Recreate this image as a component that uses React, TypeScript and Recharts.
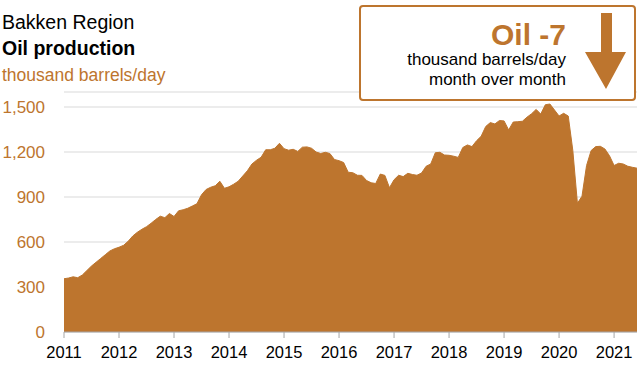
import React from 'react';
import { AreaChart, Area, XAxis, YAxis, CartesianGrid } from 'recharts';

// monthly Bakken oil production, thousand barrels/day, Jan 2011 - Jun 2021
const y2011 = [355, 360, 368, 362, 380, 410, 440, 465, 490, 515, 540, 555];
const y2012 = [565, 578, 605, 640, 665, 685, 702, 725, 750, 772, 762, 790];
const y2013 = [770, 808, 815, 825, 840, 855, 915, 950, 965, 975, 1005, 958];
const y2014 = [968, 985, 1005, 1040, 1075, 1120, 1145, 1165, 1215, 1215, 1225, 1258];
const y2015 = [1222, 1212, 1218, 1204, 1232, 1234, 1225, 1200, 1190, 1198, 1190, 1150];
const y2016 = [1142, 1130, 1065, 1062, 1045, 1044, 1010, 995, 990, 1053, 1044, 962];
const y2017 = [1015, 1045, 1036, 1058, 1050, 1045, 1060, 1105, 1120, 1195, 1198, 1180];
const y2018 = [1178, 1172, 1164, 1230, 1247, 1236, 1275, 1305, 1370, 1396, 1387, 1410];
const y2019 = [1407, 1347, 1400, 1402, 1405, 1432, 1455, 1484, 1453, 1515, 1520, 1480];
const y2020 = [1440, 1458, 1440, 1210, 858, 905, 1110, 1210, 1236, 1238, 1220, 1175];
const y2021 = [1110, 1125, 1120, 1105, 1098, 1092];

const production = [
  ...y2011, ...y2012, ...y2013, ...y2014, ...y2015, ...y2016,
  ...y2017, ...y2018, ...y2019, ...y2020, ...y2021,
];
const yearLabels = ['2011', '2012', '2013', '2014', '2015', '2016', '2017', '2018', '2019', '2020', '2021'];
const yTicks = [0, 300, 600, 900, 1200, 1500];

const ORANGE = '#BD752E';
const FONT = '"Liberation Sans", Arial, sans-serif';

const data = production.map((v, i) => ({ m: i, v }));
const xTicks = yearLabels.map((_, i) => i * 12);

export default function App() {
  return (
    <div style={{ position: 'absolute', left: 0, top: 0, width: 640, height: 366, background: '#fff' }}>
      <AreaChart
        width={640}
        height={366}
        data={data}
        margin={{ top: 92, right: 3, bottom: 4, left: 0 }}
        style={{ fontFamily: FONT }}
      >
        <CartesianGrid vertical={false} stroke="#d9d9d9" strokeWidth={1.2} />
        <XAxis
          dataKey="m"
          type="number"
          domain={[0, 125]}
          ticks={xTicks}
          tickFormatter={(m: number) => yearLabels[Math.round(m / 12)]}
          height={30}
          stroke="#a6a6a6"
          tickSize={6}
          tickMargin={8}
          tick={{ fill: '#000', fontSize: 16.5 }}
        />
        <YAxis
          type="number"
          domain={[0, 1600]}
          ticks={yTicks}
          width={64}
          axisLine={false}
          tickLine={false}
          tickSize={0}
          tickMargin={19}
          tickFormatter={(v: number) => v.toLocaleString('en-US')}
          tick={{ fill: ORANGE, fontSize: 17 }}
        />
        <Area
          type="linear"
          dataKey="v"
          stroke={ORANGE}
          strokeWidth={1}
          fill={ORANGE}
          fillOpacity={1}
          isAnimationActive={false}
        />
      </AreaChart>
      <svg
        width={640}
        height={366}
        style={{ position: 'absolute', left: 0, top: 0, pointerEvents: 'none', fontFamily: FONT }}
      >
        <text x={2} y={29} fontSize={19.5} fill="#000">Bakken Region</text>
        <text x={2} y={55} fontSize={19.5} fontWeight="bold" fill="#000">Oil production</text>
        <text x={2} y={81} fontSize={17.5} fill={ORANGE}>thousand barrels/day</text>

        <rect x={360} y={6} width={275} height={94} rx={3} fill="#fff" stroke={ORANGE} strokeWidth={2} />
        <text x={566} y={45} textAnchor="end" fontSize={30} fontWeight="bold" fill={ORANGE}>Oil -7</text>
        <text x={566} y={65} textAnchor="end" fontSize={17} fill="#000">thousand barrels/day</text>
        <text x={566} y={85} textAnchor="end" fontSize={17} fill="#000">month over month</text>
        <polygon
          points="601,13 612,13 612,52 626,52 606,89 585,52 601,52"
          fill={ORANGE}
        />
      </svg>
    </div>
  );
}
